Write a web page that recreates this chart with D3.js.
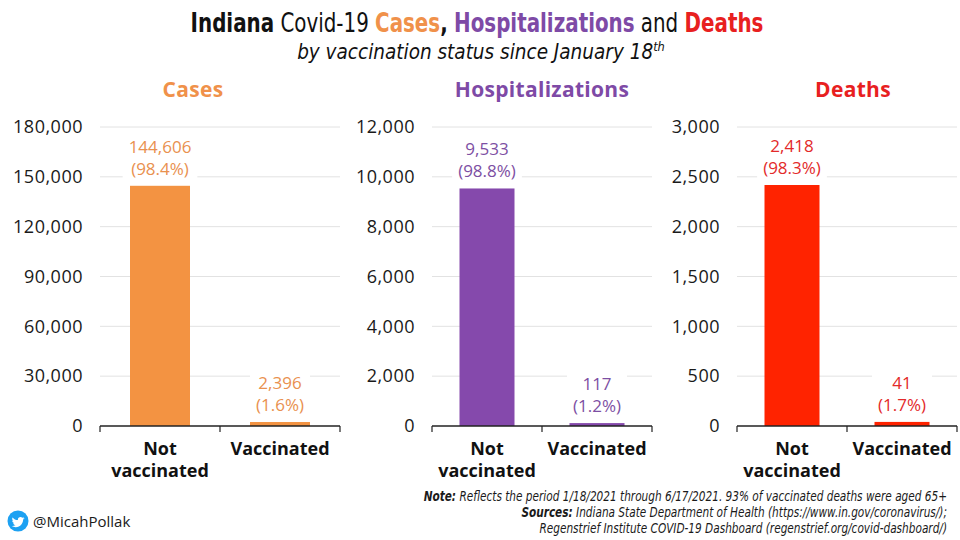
<!DOCTYPE html>
<html>
<head>
<meta charset="utf-8">
<script src="https://cdn.jsdelivr.net/npm/d3@7"></script>
<style>
  body { margin: 0; background: #fff; }
  svg { display: block; }
</style>
</head>
<body>
<div id="chart"></div>
<script>
// Data
const groups = ["Not vaccinated", "Vaccinated"];
const panelTitles = ["Cases", "Hospitalizations", "Deaths"];
const caseCounts = [144606, 2396];
const casePercents = ["98.4%", "1.6%"];
const hospCounts = [9533, 117];
const hospPercents = ["98.8%", "1.2%"];
const deathCounts = [2418, 41];
const deathPercents = ["98.3%", "1.7%"];
const caseTicks = [0, 30000, 60000, 90000, 120000, 150000, 180000];
const hospTicks = [0, 2000, 4000, 6000, 8000, 10000, 12000];
const deathTicks = [0, 500, 1000, 1500, 2000, 2500, 3000];

const width = 960, height = 540;
const yTop = 127, yBase = 426;
const sansFont = "'Open Sans', 'DejaVu Sans', sans-serif";
const narrowFont = "'Liberation Sans Narrow', 'DejaVu Sans Condensed', 'Liberation Sans', sans-serif";

const panels = [
  { title: panelTitles[0], counts: caseCounts, pcts: casePercents, ticks: caseTicks,
    x0: 100, x1: 340, titleX: 193, bar: "#f39342", label: "#e9914f", head: "#f0914a" },
  { title: panelTitles[1], counts: hospCounts, pcts: hospPercents, ticks: hospTicks,
    x0: 432, x1: 652, titleX: 542, bar: "#8549ac", label: "#7d4fa3", head: "#7e4aa6" },
  { title: panelTitles[2], counts: deathCounts, pcts: deathPercents, ticks: deathTicks,
    x0: 737, x1: 957, titleX: 853, bar: "#ff2300", label: "#e32a2a", head: "#e8201f" }
];

const svg = d3.select("#chart").append("svg")
    .attr("width", width)
    .attr("height", height);

// squeeze a text horizontally so it spans the target width
function fitWidth(sel, target, anchorX, y) {
    let w = sel.node().getComputedTextLength();
    let k = target / w;
    sel.attr("x", 0).attr("y", 0)
        .attr("transform", `translate(${anchorX},${y}) scale(${k},1)`);
    return k;
}

// Title
let title = svg.append("text")
    .attr("text-anchor", "middle")
    .style("font-family", narrowFont)
    .style("font-size", "27px")
    .attr("fill", "#111");
title.append("tspan").attr("font-weight", "bold").text("Indiana");
title.append("tspan").text(" Covid-19 ");
title.append("tspan").attr("font-weight", "bold").attr("fill", panels[0].head).text("Cases");
title.append("tspan").attr("font-weight", "bold").text(",");
title.append("tspan").text(" ");
title.append("tspan").attr("font-weight", "bold").attr("fill", panels[1].head).text("Hospitalizations");
title.append("tspan").text(" and ");
title.append("tspan").attr("font-weight", "bold").attr("fill", panels[2].head).text("Deaths");
fitWidth(title, 573, 477, 32);

let subtitle = svg.append("text")
    .attr("text-anchor", "middle")
    .style("font-family", narrowFont)
    .style("font-size", "21px")
    .style("font-style", "italic")
    .attr("fill", "#111");
subtitle.append("tspan").text("by vaccination status since January 18");
subtitle.append("tspan").attr("font-size", "13px").attr("dy", -8).text("th");
fitWidth(subtitle, 368, 481, 59);

panels.forEach(p => {
    let x = d3.scaleBand()
        .domain(groups)
        .range([p.x0, p.x1])
        .paddingInner(0.5)
        .paddingOuter(0.25);

    let y = d3.scaleLinear()
        .domain([0, d3.max(p.ticks)])
        .range([yBase, yTop]);

    let g = svg.append("g");

    // panel title
    g.append("text")
        .attr("x", p.titleX)
        .attr("y", 97)
        .attr("text-anchor", "middle")
        .attr("fill", p.head)
        .style("font-family", sansFont)
        .style("font-weight", "bold")
        .style("font-size", "21px")
        .style("letter-spacing", "0.3px")
        .text(p.title);

    // gridlines
    g.append("g")
        .selectAll("line")
        .data(p.ticks.filter(d => d > 0))
        .join("line")
        .attr("x1", p.x0)
        .attr("x2", p.x1)
        .attr("y1", d => y(d))
        .attr("y2", d => y(d))
        .attr("stroke", "#e2e2e2")
        .attr("stroke-width", 1);

    // y axis labels
    let yAxis = d3.axisLeft(y)
        .tickValues(p.ticks)
        .tickSize(0)
        .tickPadding(0)
        .tickFormat(d3.format(","));
    g.append("g")
        .attr("transform", `translate(${p.x0 - 17},0)`)
        .call(yAxis)
        .call(a => a.select(".domain").remove())
        .call(a => a.selectAll("text")
            .attr("fill", "#1a1a1a")
            .style("font-family", sansFont)
            .style("font-size", "18px")
            .style("letter-spacing", "0.5px"));

    // bars
    g.append("g")
        .selectAll("rect")
        .data(groups)
        .join("rect")
        .attr("x", d => x(d))
        .attr("width", x.bandwidth())
        .attr("y", (d, i) => y(p.counts[i]))
        .attr("height", (d, i) => yBase - y(p.counts[i]))
        .attr("fill", p.bar);

    // value labels with white knockout behind them
    groups.forEach((grp, i) => {
        let cx = x(grp) + x.bandwidth() / 2;
        let top = y(p.counts[i]);
        let lg = g.append("g");
        let bg = lg.append("rect").attr("fill", "#fff");
        let t = lg.append("text")
            .attr("text-anchor", "middle")
            .attr("fill", p.label)
            .style("font-family", sansFont)
            .style("font-size", "17px");
        t.append("tspan").attr("x", cx).attr("y", top - 33).text(d3.format(",")(p.counts[i]));
        t.append("tspan").attr("x", cx).attr("y", top - 11).text(`(${p.pcts[i]})`);
        let bb = t.node().getBBox();
        bg.attr("x", bb.x - 6).attr("y", bb.y - 2)
            .attr("width", bb.width + 12).attr("height", bb.height + 2);
    });

    // baseline with ticks at band boundaries
    let tickXs = [p.x0, (x(groups[0]) + x.bandwidth() + x(groups[1])) / 2, p.x1];
    g.append("line")
        .attr("x1", p.x0).attr("x2", p.x1)
        .attr("y1", yBase).attr("y2", yBase)
        .attr("stroke", "#222").attr("stroke-width", 1.5);
    g.append("g")
        .selectAll("line")
        .data(tickXs)
        .join("line")
        .attr("x1", d => d).attr("x2", d => d)
        .attr("y1", yBase).attr("y2", yBase + 6)
        .attr("stroke", "#222").attr("stroke-width", 1.2);

    // category labels
    let cat = g.append("g")
        .selectAll("text")
        .data(groups)
        .join("text")
        .attr("text-anchor", "middle")
        .attr("fill", "#111")
        .style("font-family", sansFont)
        .style("font-weight", "bold")
        .style("font-size", "18px");
    cat.each(function(d) {
        let cx = x(d) + x.bandwidth() / 2;
        let words = d === "Not vaccinated" ? ["Not", "vaccinated"] : [d];
        words.forEach((w, k) => {
            d3.select(this).append("tspan")
                .attr("x", cx)
                .attr("y", 455 + k * 22)
                .text(w);
        });
    });
});

// Footnotes
let notes = [
    [["Note:", true], [" Reflects the period 1/18/2021 through 6/17/2021. 93% of vaccinated deaths were aged 65+", false]],
    [["Sources:", true], [" Indiana State Department of Health (https://www.in.gov/coronavirus/);", false]],
    [["Regenstrief Institute COVID-19 Dashboard (regenstrief.org/covid-dashboard/)", false]]
];
let noteTexts = notes.map((parts, i) => {
    let t = svg.append("text")
        .attr("text-anchor", "end")
        .attr("fill", "#1a1a1a")
        .style("font-family", narrowFont)
        .style("font-style", "italic")
        .style("font-size", "14px");
    parts.forEach(pt => {
        t.append("tspan").attr("font-weight", pt[1] ? "bold" : "normal").text(pt[0]);
    });
    return t;
});
let k = noteTexts[0].node().getComputedTextLength();
let scaleK = 524 / k;
noteTexts.forEach((t, i) => {
    t.attr("x", 0).attr("y", 0)
        .attr("transform", `translate(947,${501 + i * 16}) scale(${scaleK},1)`);
});

// twitter handle
let tw = svg.append("g").attr("transform", "translate(18,521)");
tw.append("circle").attr("r", 10.5).attr("fill", "#1da1f2");
tw.append("path")
    .attr("transform", "translate(-6.3,-5.3) scale(0.53)")
    .attr("fill", "#fff")
    .attr("d", "M23.954 4.569c-.885.389-1.83.654-2.825.775 1.014-.611 1.794-1.574 2.163-2.723-.951.555-2.005.959-3.127 1.184-.896-.959-2.173-1.559-3.591-1.559-2.717 0-4.92 2.203-4.92 4.917 0 .39.045.765.127 1.124C7.691 8.094 4.066 6.13 1.640 3.161c-.427.722-.666 1.561-.666 2.475 0 1.71.87 3.213 2.188 4.096-.807-.026-1.566-.248-2.228-.616v.061c0 2.385 1.693 4.374 3.946 4.827-.413.111-.849.171-1.296.171-.314 0-.615-.03-.916-.086.631 1.953 2.445 3.377 4.604 3.417-1.68 1.319-3.809 2.105-6.102 2.105-.39 0-.779-.023-1.17-.067 2.189 1.394 4.768 2.209 7.557 2.209 9.054 0 13.999-7.496 13.999-13.986 0-.209 0-.42-.015-.63.961-.689 1.8-1.56 2.46-2.548l-.047-.02z");
svg.append("text")
    .attr("x", 33)
    .attr("y", 527)
    .attr("fill", "#1a1a1a")
    .style("font-family", sansFont)
    .style("font-size", "15px")
    .text("@MicahPollak");
</script>
</body>
</html>
